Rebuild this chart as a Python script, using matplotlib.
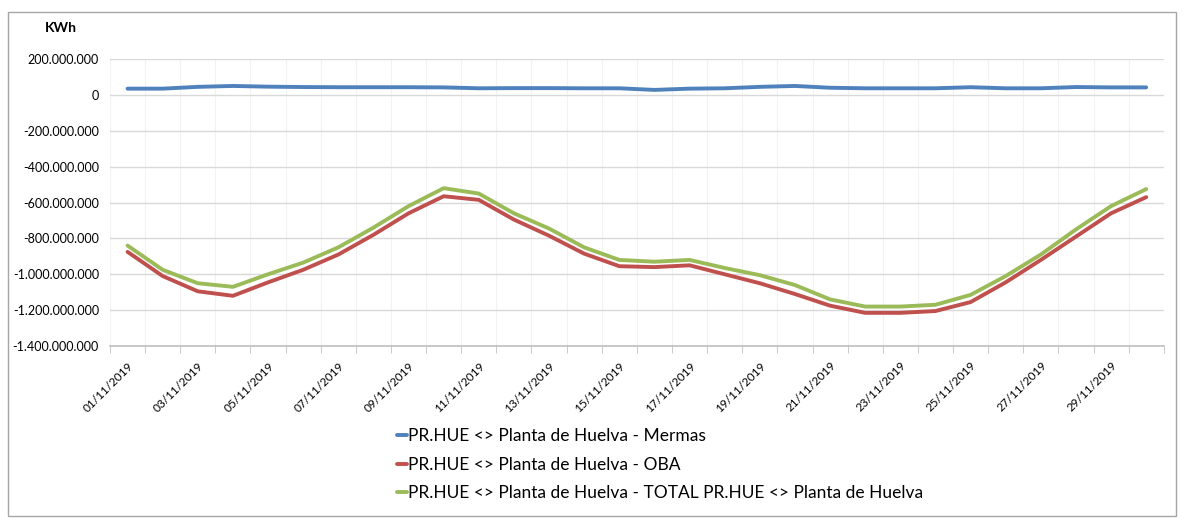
import matplotlib
matplotlib.use("Agg")
import matplotlib.pyplot as plt
from matplotlib.patches import Rectangle
from matplotlib.ticker import FuncFormatter

plt.rcParams["font.family"] = ["Lato", "DejaVu Sans"]

# DATOS (KWh) - dias de noviembre 2019
days = [f"{d:02d}/11/2019" for d in range(1, 31)]

mermas = [35e6, 35e6, 45e6, 50e6, 46e6, 44e6, 43e6, 43e6, 43e6, 42e6,
          37e6, 38e6, 38e6, 37e6, 37e6, 28e6, 35e6, 37e6, 45e6, 50e6,
          40e6, 37e6, 37e6, 37e6, 43e6, 37e6, 37e6, 44e6, 42e6, 42e6]

oba = [-875e6, -1010e6, -1095e6, -1120e6, -1045e6, -975e6, -890e6, -780e6, -660e6, -565e6,
       -585e6, -695e6, -785e6, -885e6, -955e6, -960e6, -950e6, -1000e6, -1050e6, -1110e6,
       -1175e6, -1215e6, -1215e6, -1205e6, -1155e6, -1045e6, -920e6, -790e6, -660e6, -570e6]

total = [-840e6, -975e6, -1050e6, -1070e6, -1000e6, -935e6, -850e6, -740e6, -620e6, -520e6,
         -550e6, -660e6, -745e6, -850e6, -920e6, -930e6, -920e6, -965e6, -1005e6, -1060e6,
         -1140e6, -1180e6, -1180e6, -1170e6, -1115e6, -1010e6, -890e6, -750e6, -620e6, -525e6]

labels = ["PR.HUE <> Planta de Huelva - Mermas",
          "PR.HUE <> Planta de Huelva - OBA",
          "PR.HUE <> Planta de Huelva - TOTAL PR.HUE <> Planta de Huelva"]
colors = ["#4F81BD", "#C0504D", "#9BBB59"]

fig = plt.figure(figsize=(11.84, 5.18), dpi=100)
ax = fig.add_axes([0.0929, 0.332, 0.890, 0.554])

x = list(range(len(days)))
for serie, lab, col in zip([mermas, oba, total], labels, colors):
    ax.plot(x, serie, color=col, linewidth=2.8, label=lab,
            solid_joinstyle="round", solid_capstyle="round")

# EJES
ax.set_xlim(-0.5, len(days) - 0.5)
ax.set_ylim(-1.4e9, 2e8)
ax.set_yticks([v * 1e8 for v in range(-14, 3, 2)])
ax.yaxis.set_major_formatter(FuncFormatter(lambda v, p: f"{int(round(v)):,}".replace(",", ".")))
ax.tick_params(axis="y", length=0, labelsize=9, pad=8)
ax.grid(axis="y", color="#D9D9D9", linewidth=1.0)

ax.set_xticks([i - 0.5 for i in range(len(days) + 1)], minor=True)
ax.set_xticks(x[::2])
ax.set_xticklabels(days[::2], rotation=45, ha="right", rotation_mode="anchor", fontsize=8.5)
ax.tick_params(axis="x", which="major", length=0, pad=10)
ax.tick_params(axis="x", which="minor", length=5, color="#BFBFBF")
ax.grid(axis="x", which="minor", color="#F2F2F2", linewidth=0.8)
ax.set_axisbelow(True)

for s in ["top", "right", "left"]:
    ax.spines[s].set_visible(False)
ax.spines["bottom"].set_color("#BFBFBF")
ax.spines["bottom"].set_linewidth(1.2)

fig.text(0.038, 0.938, "KWh", fontsize=10, fontweight="bold")

fig.legend(loc="upper left", bbox_to_anchor=(0.322, 0.203), frameon=False,
           fontsize=12.5, handlelength=0.6, handletextpad=0.05, labelspacing=0.72)

# MARCO DEL GRAFICO
fig.patches.append(Rectangle((0.007, 0.004), 0.986, 0.973, transform=fig.transFigure,
                             fill=False, edgecolor="#A6A6A6", linewidth=1.0))

fig.savefig("out.png", dpi=100)
